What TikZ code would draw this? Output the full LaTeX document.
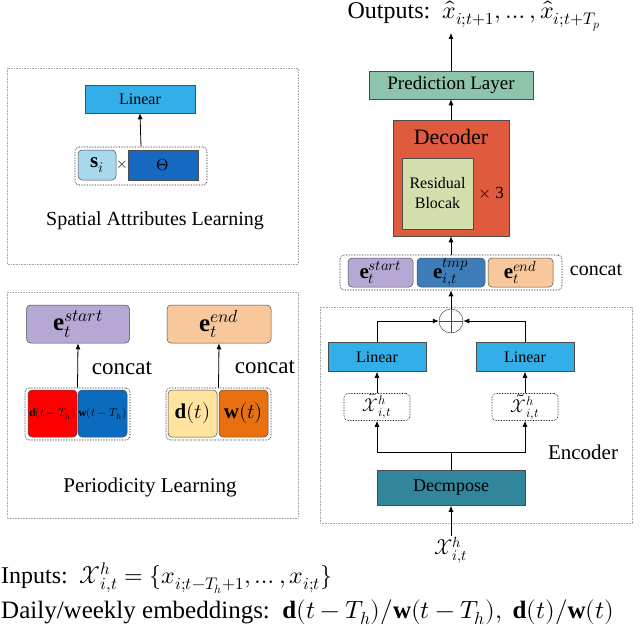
\documentclass[tikz,border=0pt]{standalone}
\usepackage{amsmath}
\usepackage{fontspec}
\usepackage{unicode-math}
\setmainfont{Liberation Serif}
\setmathfont{Latin Modern Math}
\usetikzlibrary{arrows.meta}
\definecolor{lin}{HTML}{33AEE8}
\definecolor{sib}{HTML}{A7D8EE}
\definecolor{theta}{HTML}{1768C0}
\definecolor{pur}{HTML}{B5A8D4}
\definecolor{pch}{HTML}{F8C89C}
\definecolor{tmp}{HTML}{3F7DBA}
\definecolor{red1}{HTML}{FF0000}
\definecolor{blu1}{HTML}{0A6BBF}
\definecolor{yel}{HTML}{FFE39E}
\definecolor{ora}{HTML}{E8700F}
\definecolor{dec}{HTML}{E05A3E}
\definecolor{res}{HTML}{D4DFAE}
\definecolor{pred}{HTML}{8FC4AC}
\definecolor{dcp}{HTML}{31869C}
\newcommand{\fs}[1]{\fontsize{#1}{#1}\selectfont}
\begin{document}
\begin{tikzpicture}[x=1pt,y=-1pt,
  panel/.style={draw=gray!70,densely dotted,line width=0.6pt},
  grp/.style={draw=black,densely dotted,rounded corners=4pt,line width=0.6pt},
  box/.style={draw=gray!60!black,line width=0.5pt,inner sep=0pt},
  rbox/.style={draw=gray!60!black,rounded corners=4pt,line width=0.5pt,inner sep=0pt},
  arr/.style={-{Latex[length=6pt,width=5pt]},line width=0.8pt}]
\useasboundingbox (0,0) rectangle (640,626);
% spatial panel
\draw[panel] (7,68) rectangle (298,264);
\node[box,fill=lin,minimum width=110pt,minimum height=28pt,font=\fs{16}] (lin0) at (140,99) {Linear};
\node[grp,minimum width=132pt,minimum height=38pt] (sg) at (141,166) {};
\node[rbox,fill=sib,minimum width=38pt,minimum height=30pt,font=\fs{21}] (si) at (97,165) {$\mathbf{s}_i$};
\node[font=\fs{15}] (times0) at (122,165) {$\times$};
\node[box,fill=theta,minimum width=70pt,minimum height=30pt,font=\fs{16}] (th) at (163,165) {$\Theta$};
\draw[arr] (sg.north) -- (lin0.south);
\node[font=\fs{20}] (sal) at (155,221) {Spatial Attributes Learning};
% periodicity panel
\draw[panel] (7,292) rectangle (298,518);
\node[rbox,fill=pur,minimum width=103pt,minimum height=38pt,font=\fs{25}] (es) at (78,324) {$\mathbf{e}_t^{start}$};
\node[rbox,fill=pch,minimum width=104pt,minimum height=38pt,font=\fs{25}] (ee) at (219,324) {$\mathbf{e}_t^{end}$};
\node[grp,minimum width=105pt,minimum height=52pt] (g1) at (77.5,414) {};
\node[rbox,fill=red1,minimum width=49pt,minimum height=47pt,font=\fs{11.5}] (d1) at (52.5,413.5) {$\mathbf{d}(t-T_h)$};
\node[rbox,fill=blu1,minimum width=49pt,minimum height=47pt,font=\fs{11.5}] (w1) at (102.5,413.5) {$\mathbf{w}(t-T_h)$};
\node[grp,minimum width=105pt,minimum height=52pt] (g2) at (218.5,414) {};
\node[rbox,fill=yel,minimum width=49pt,minimum height=47pt,font=\fs{21}] (d2) at (192.5,413.5) {$\mathbf{d}(t)$};
\node[rbox,fill=ora,minimum width=49pt,minimum height=47pt,font=\fs{21}] (w2) at (243.5,413.5) {$\mathbf{w}(t)$};
\draw[arr] (g1.north) -- (es.south);
\draw[arr] (g2.north) -- (ee.south);
\node[font=\fs{23}] (c1) at (122,368) {concat};
\node[font=\fs{23}] (c2) at (265,367) {concat};
\node[font=\fs{21}] (pl) at (150,487) {Periodicity Learning};
% encoder
\draw[panel] (320,307) rectangle (632,523);
\node[draw=gray!60!black,circle,minimum size=24pt,inner sep=0pt,line width=0.5pt] (plus) at (451,321) {};
\draw[gray!60!black,line width=0.5pt] (plus.north) -- (plus.south) (plus.west) -- (plus.east);
\node[box,fill=lin,minimum width=98pt,minimum height=29pt,font=\fs{16}] (l1) at (377,357) {Linear};
\node[box,fill=lin,minimum width=98pt,minimum height=29pt,font=\fs{16}] (l2) at (525,357) {Linear};
\node[grp,fill=white,minimum width=66pt,minimum height=27pt,inner sep=0pt,font=\fs{18}] (xb) at (377,407) {$\bar{\mathcal{X}}_{i,t}^h$};
\node[grp,fill=white,minimum width=66pt,minimum height=27pt,inner sep=0pt,font=\fs{18}] (xt) at (525,407) {$\tilde{\mathcal{X}}_{i,t}^h$};
\node[box,fill=dcp,minimum width=148pt,minimum height=35pt,font=\fs{18}] (dcm) at (451,488) {Decmpose};
\node[font=\fs{21}] (enc) at (583,452) {Encoder};
\coordinate (split) at (451,452);
\draw[line width=0.8pt] (dcm.north) -- (split);
\draw[arr] (split) -| (xb.south);
\draw[arr] (split) -| (xt.south);
\draw[arr] (xb.north) -- (l1.south);
\draw[arr] (xt.north) -- (l2.south);
\draw[arr] (l1.north) |- (plus.west);
\draw[arr] (l2.north) |- (plus.east);
\node[font=\fs{21},inner sep=1pt] (xin) at (451,550) {$\mathcal{X}_{i,t}^h$};
\draw[arr] (xin.north) -- (dcm.south);
% concat
\node[grp,minimum width=222pt,minimum height=35pt] (cg) at (451,272.5) {};
\node[rbox,fill=pur,minimum width=65pt,minimum height=29pt,font=\fs{21}] (es2) at (380.5,272.5) {$\mathbf{e}_t^{start}$};
\node[rbox,fill=tmp,minimum width=68pt,minimum height=29pt,font=\fs{21}] (et) at (451,272.5) {$\mathbf{e}_{i,t}^{tmp}$};
\node[rbox,fill=pch,minimum width=65pt,minimum height=29pt,font=\fs{21}] (ee2) at (520.5,272.5) {$\mathbf{e}_t^{end}$};
\node[font=\fs{20}] (c3) at (596,270) {concat};
\draw[arr] (plus.north) -- (cg.south);
% decoder
\node[box,fill=dec,minimum width=116pt,minimum height=116pt] (dec) at (451,178) {};
\node[font=\fs{22}] (dect) at (451,137) {Decoder};
\node[box,fill=res,minimum width=71pt,minimum height=71pt,align=center,font=\fontsize{16}{20}\selectfont] (rb) at (437.5,193.5) {Residual\\Blocak};
\node[font=\fs{17}] (x3) at (491,193) {$\times$ 3};
\draw[arr] (cg.north) -- (dec.south);
\node[box,fill=pred,minimum width=164pt,minimum height=28pt,font=\fs{19}] (pred) at (451,85) {Prediction Layer};
\draw[arr] (dec.north) -- (pred.south);
\node[font=\fs{24}] (out) at (474,16) {Outputs:\ \ $\hat{x}_{i;t+1},\ldots,\hat{x}_{i;t+T_p}$};
\coordinate (outb) at (451,33);
\draw[arr] (pred.north) -- (outb);
% bottom text
\node[font=\fs{24},anchor=west,inner sep=0pt] (inp) at (1,578) {Inputs:\ \ $\mathcal{X}_{i,t}^h=\{x_{i;t-T_h+1},\ldots,x_{i;t}\}$};
\node[font=\fs{25},anchor=west,inner sep=0pt] (daily) at (1,612) {Daily/weekly embeddings:\ \ $\mathbf{d}(t-T_h)/\mathbf{w}(t-T_h),\ \mathbf{d}(t)/\mathbf{w}(t)$};
\end{tikzpicture}
\end{document}
